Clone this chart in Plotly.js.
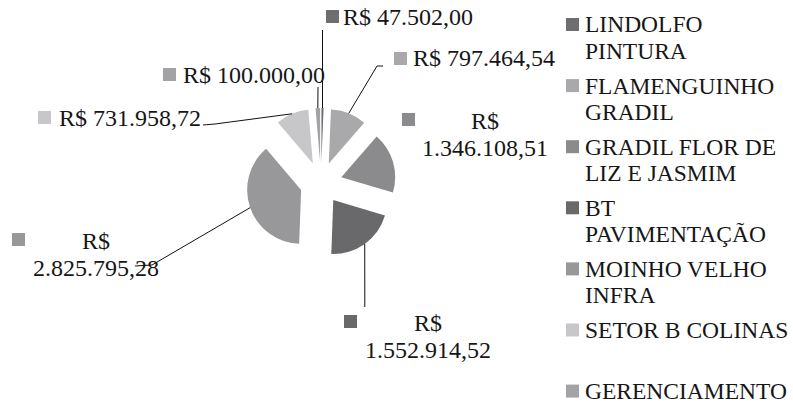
<!DOCTYPE html>
<html>
<head>
<meta charset="utf-8">
<script src="https://cdn.plot.ly/plotly-3.0.1.min.js"></script>
<style>html,body{margin:0;padding:0;background:#fff;}#chart{width:793px;height:403px;}</style>
</head>
<body>
<div id="chart"></div>
<script>
// ---- data ----
const categories = ['LINDOLFO PINTURA', 'FLAMENGUINHO GRADIL', 'GRADIL FLOR DE LIZ E JASMIM', 'BT PAVIMENTAÇÃO', 'MOINHO VELHO INFRA', 'SETOR B COLINAS', 'GERENCIAMENTO'];
const values = [47502.00, 797464.54, 1346108.51, 1552914.52, 2825795.28, 731958.72, 100000.00];
const legendLabels = ['LINDOLFO<br>PINTURA', 'FLAMENGUINHO<br>GRADIL', 'GRADIL FLOR DE<br>LIZ E JASMIM', 'BT<br>PAVIMENTAÇÃO', 'MOINHO VELHO<br>INFRA', 'SETOR B COLINAS', 'GERENCIAMENTO'];
const colors = ['#6e6e70', '#a9a9ab', '#8b8b8d', '#69696b', '#98989a', '#c7c7c9', '#a3a3a5'];

// ---- layout constants (pixels) ----
const W = 793, H = 403;
const CX = 321, CY = 183, OUTER = 75, PULL = 0.39;
const FONT = 'Liberation Serif';
const TXT = '#161616';
// label placement: block centre x, first line centre y, wrap into two lines?, square left/top
const labelPos = [
  {cx: 408, cy: 17, wrap: false, sx: 326, sy: 10},
  {cx: 484, cy: 58, wrap: false, sx: 394, sy: 52},
  {cx: 485, cy: 121, wrap: true, sx: 402, sy: 113},
  {cx: 428, cy: 323, wrap: true, sx: 344, sy: 315},
  {cx: 96, cy: 241, wrap: true, sx: 12, sy: 233},
  {cx: 130, cy: 118, wrap: false, sx: 38, sy: 111},
  {cx: 254, cy: 75, wrap: false, sx: 163, sy: 68}
];
// leader line start points (label side); null = no leader
const leaderStart = [
  [[322.5, 30]],
  [[383, 66], [377, 66]],
  null,
  [[364.8, 307]],
  [[135, 266], [152, 265]],
  [[203, 125], [215, 124]],
  [[318, 87]]
];

const px = x => x / W;
const py = y => 1 - y / H;

function fmtBRL(v) {
  const parts = v.toFixed(2).split('.');
  const intPart = parts[0].replace(/\B(?=(\d{3})+(?!\d))/g, '.');
  return intPart + ',' + parts[1];
}

const total = values.reduce((a, b) => a + b, 0);
let cum = 0;
const midAngles = values.map(v => { const m = (cum + v / 2) / total * 2 * Math.PI; cum += v; return m; });

const annotations = [];
const shapes = [];

// data labels
values.forEach((v, i) => {
  const p = labelPos[i];
  const num = fmtBRL(v);
  const lines = p.wrap ? ['R$', num] : ['R$ ' + num];
  lines.forEach((t, k) => {
    annotations.push({
      text: t, xref: 'paper', yref: 'paper', x: px(p.cx), y: py(p.cy + k * 27),
      xanchor: 'center', yanchor: 'middle', showarrow: false,
      font: {family: FONT, size: 24, color: TXT}
    });
  });
  shapes.push({type: 'rect', xref: 'paper', yref: 'paper',
    x0: px(p.sx), x1: px(p.sx + 13), y0: py(p.sy), y1: py(p.sy + 13),
    fillcolor: colors[i], line: {width: 0}});
  // leader line to the slice's outer edge (angle derived from data)
  if (leaderStart[i]) {
    const a = midAngles[i];
    const tx = CX + OUTER * Math.sin(a), ty = CY - OUTER * Math.cos(a);
    const pts = leaderStart[i].concat([[tx, ty]]);
    const path = pts.map((q, k) => (k ? 'L' : 'M') + px(q[0]) + ',' + py(q[1])).join(' ');
    shapes.push({type: 'path', xref: 'paper', yref: 'paper', path: path,
      line: {color: '#111', width: 1}});
  }
});

// legend
legendLabels.forEach((name, i) => {
  const y0 = 24.5 + i * 61.1;
  name.split('<br>').forEach((t, k) => {
    annotations.push({
      text: t, xref: 'paper', yref: 'paper', x: px(583), y: py(y0 + k * 26.5),
      xanchor: 'left', yanchor: 'middle', showarrow: false,
      font: {family: FONT, size: 23.5, color: TXT}
    });
  });
  shapes.push({type: 'rect', xref: 'paper', yref: 'paper',
    x0: px(566), x1: px(579), y0: py(y0 - 6.5), y1: py(y0 + 6.5),
    fillcolor: colors[i], line: {width: 0}});
});

const trace = {
  type: 'pie',
  labels: categories,
  values: values,
  sort: false,
  direction: 'clockwise',
  rotation: 0,
  pull: values.map(() => PULL),
  marker: {colors: colors, line: {width: 0}},
  textinfo: 'none',
  hoverinfo: 'label+value',
  domain: {x: [px(CX - OUTER), px(CX + OUTER)], y: [py(CY + OUTER), py(CY - OUTER)]},
  showlegend: false
};

const layout = {
  width: W, height: H,
  margin: {l: 0, r: 0, t: 0, b: 0},
  paper_bgcolor: '#fff', plot_bgcolor: '#fff',
  showlegend: false,
  annotations: annotations,
  shapes: shapes
};

Plotly.newPlot('chart', [trace], layout, {displayModeBar: false, staticPlot: true});
</script>
</body>
</html>
